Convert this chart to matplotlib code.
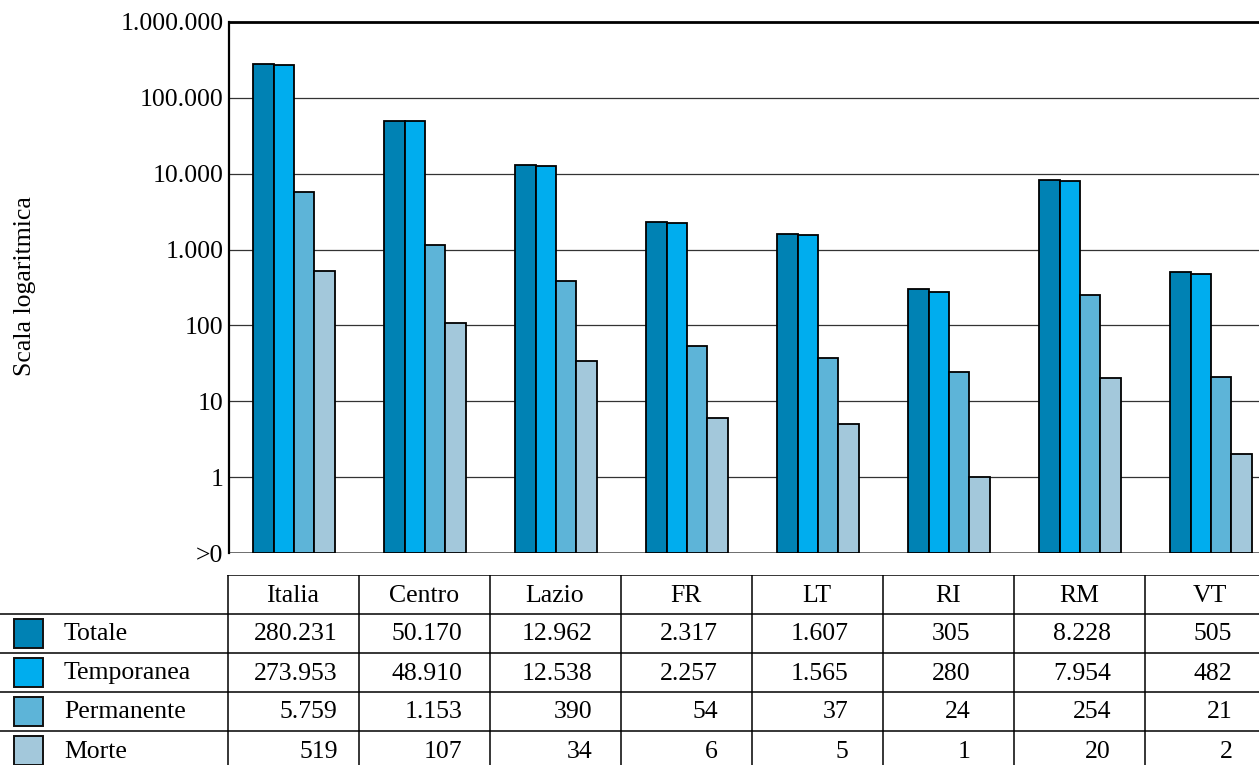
import matplotlib
matplotlib.use("Agg")
import matplotlib.pyplot as plt
from matplotlib.patches import Rectangle
from matplotlib.textpath import TextPath
from matplotlib.font_manager import FontProperties

plt.rcParams['font.family'] = ['Liberation Serif', 'DejaVu Serif']

areas = ["Italia", "Centro", "Lazio", "FR", "LT", "RI", "RM", "VT"]
series_names = ["Totale", "Temporanea", "Permanente", "Morte"]
totale = [280231, 50170, 12962, 2317, 1607, 305, 8228, 505]
temporanea = [273953, 48910, 12538, 2257, 1565, 280, 7954, 482]
permanente = [5759, 1153, 390, 54, 37, 24, 254, 21]
morte = [519, 107, 34, 6, 5, 1, 20, 2]
series = [totale, temporanea, permanente, morte]
colors = ["#0082B4", "#00ADEE", "#5DB4D8", "#A3C8DB"]

ytick_vals = [0.1, 1, 10, 100, 1e3, 1e4, 1e5, 1e6]
ytick_labels = [">0", "1", "10", "100", "1.000", "10.000", "100.000", "1.000.000"]


def fmt(v):
    return f"{v:,}".replace(",", ".")


W, H = 1259, 765
FS = 18.5
fig = plt.figure(figsize=(W / 100, H / 100), dpi=100)

col_w = 131.0
x0 = 227.5
top_px, bot_px = 22, 553

ax = fig.add_axes([(x0 + 1.5) / W, 1 - bot_px / H, (W - x0 - 1.5) / W, (bot_px - top_px) / H])
ax.set_yscale("log")
ax.set_ylim(0.1, 1e6)
ax.set_xlim(1.5 / col_w, (W - x0) / col_w)

bw = 0.155
for k, (vals, c) in enumerate(zip(series, colors)):
    xs = [i + 0.5 + 0.008 + (k - 1.5) * bw for i in range(len(areas))]
    ax.bar(xs, [v - 0.1 for v in vals], bottom=0.1, width=bw, color=c,
           edgecolor="black", linewidth=1.3, zorder=3)

ax.set_yticks(ytick_vals)
ax.set_yticklabels(ytick_labels, fontsize=FS)
ax.yaxis.set_minor_locator(matplotlib.ticker.NullLocator())
ax.tick_params(axis="y", length=0, pad=4)
ax.set_xticks([])
for v in ytick_vals[1:-1]:
    ax.axhline(v, color="#333333", linewidth=0.9, zorder=1)
ax.axhline(0.1, color="#555555", linewidth=1.2, zorder=1)
ax.spines["top"].set_linewidth(2.0)
ax.spines["left"].set_linewidth(1.6)
ax.spines["right"].set_visible(False)
ax.spines["bottom"].set_visible(False)

fig.text(25 / W, 1 - 286 / H, "Scala logaritmica", rotation=90,
         ha="center", va="center", fontsize=FS)

# data table beneath the bars
tab_top = 575
ax_t = fig.add_axes([0, 0, 1, (H - tab_top) / H])
ax_t.set_xlim(-x0 / col_w, (W - x0) / col_w)
ax_t.set_ylim(H, tab_top)
ax_t.axis("off")

row_h = 39.0
n_rows = len(series) + 1
lw = 1.1
ax_t.plot([0, len(areas)], [tab_top, tab_top], color="black", lw=lw)
for r in range(1, n_rows + 1):
    y = tab_top + r * row_h
    ax_t.plot([-x0 / col_w, len(areas)], [y, y], color="black", lw=lw)
for i in range(len(areas) + 1):
    ax_t.plot([i, i], [tab_top, tab_top + n_rows * row_h], color="black", lw=lw)

for i, a in enumerate(areas):
    ax_t.text(i + 0.5, tab_top + row_h / 2 + 1, a, ha="center", va="center", fontsize=FS)

fp = FontProperties(family="Liberation Serif", size=FS)
for i in range(len(areas)):
    widths = [TextPath((0, 0), fmt(s[i]), prop=fp).get_extents().width for s in series]
    wmax_units = max(widths) / 72 * 100 / col_w
    xr = i + 0.5 + wmax_units / 2 + 4 / col_w
    for r, s in enumerate(series):
        yc = tab_top + (r + 1.5) * row_h + 1
        ax_t.text(xr, yc, fmt(s[i]), ha="right", va="center", fontsize=FS)

sq = 29 / col_w
for r, (name, c) in enumerate(zip(series_names, colors)):
    yc = tab_top + (r + 1.5) * row_h
    ax_t.add_patch(Rectangle(((13.5 - x0) / col_w, yc - 14.5), sq, 29,
                             facecolor=c, edgecolor="#111111", linewidth=1.4))
    ax_t.text((64 - x0) / col_w, yc + 1, name, ha="left", va="center", fontsize=FS)

fig.savefig("out.png", dpi=100)
